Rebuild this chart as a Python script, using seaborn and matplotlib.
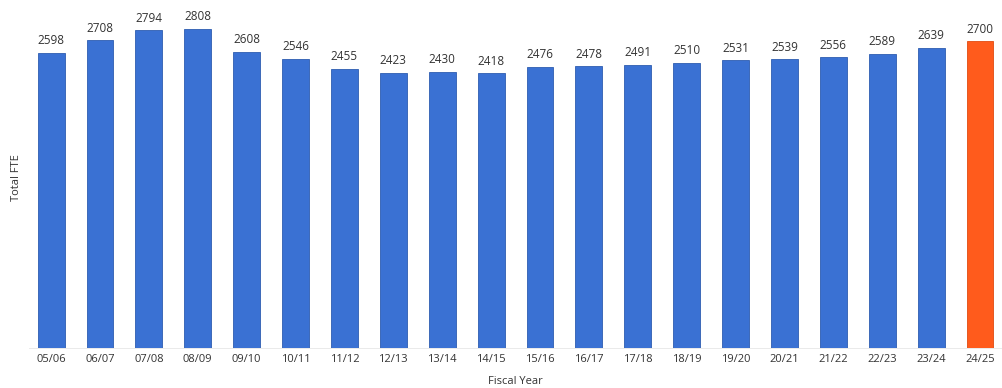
import matplotlib
matplotlib.use("Agg")
import matplotlib.pyplot as plt
import seaborn as sns
import pandas as pd

years = ["05/06", "06/07", "07/08", "08/09", "09/10", "10/11", "11/12", "12/13", "13/14", "14/15",
         "15/16", "16/17", "17/18", "18/19", "19/20", "20/21", "21/22", "22/23", "23/24", "24/25"]
fte = [2598, 2708, 2794, 2808, 2608, 2546, 2455, 2423, 2430, 2418,
       2476, 2478, 2491, 2510, 2531, 2539, 2556, 2589, 2639, 2700]
kind = ["actual"] * 19 + ["projected"]

sns.set_theme(style="white")
plt.rcParams['font.family'] = ['Open Sans', 'DejaVu Sans']

df = pd.DataFrame({"year": years, "fte": fte, "kind": kind})

fig = plt.figure(figsize=(10.02, 3.88), dpi=100)
ax = fig.add_axes([0.029, 0.103, 0.971, 0.879])
sns.barplot(data=df, x="year", y="fte", hue="kind",
            palette={"actual": "#3A71D3", "projected": "#FF5B1C"},
            dodge=False, width=0.55, legend=False, ax=ax, saturation=1,
            edgecolor="#2E5DB0", linewidth=0.6)
ax.patches[-1].set_edgecolor("#E04A10")
for c in ax.containers:
    ax.bar_label(c, fmt="%d", padding=4, fontsize=8.5, color="#333333")
ax.set_xlim(-0.45, 19.45)
ax.set_ylim(0, 3000)
ax.set_yticks([])
for s in ["top", "right", "left"]:
    ax.spines[s].set_visible(False)
ax.spines["bottom"].set_color("#e6e6e6")
ax.spines["bottom"].set_linewidth(0.6)
ax.tick_params(axis="x", labelsize=8, colors="#333333", pad=4, length=0)
ax.set_xlabel("Fiscal Year", fontsize=8, color="#333333", labelpad=8)
ax.set_ylabel("Total FTE", fontsize=8, color="#333333", labelpad=5)
fig.savefig("out.png", dpi=100)
